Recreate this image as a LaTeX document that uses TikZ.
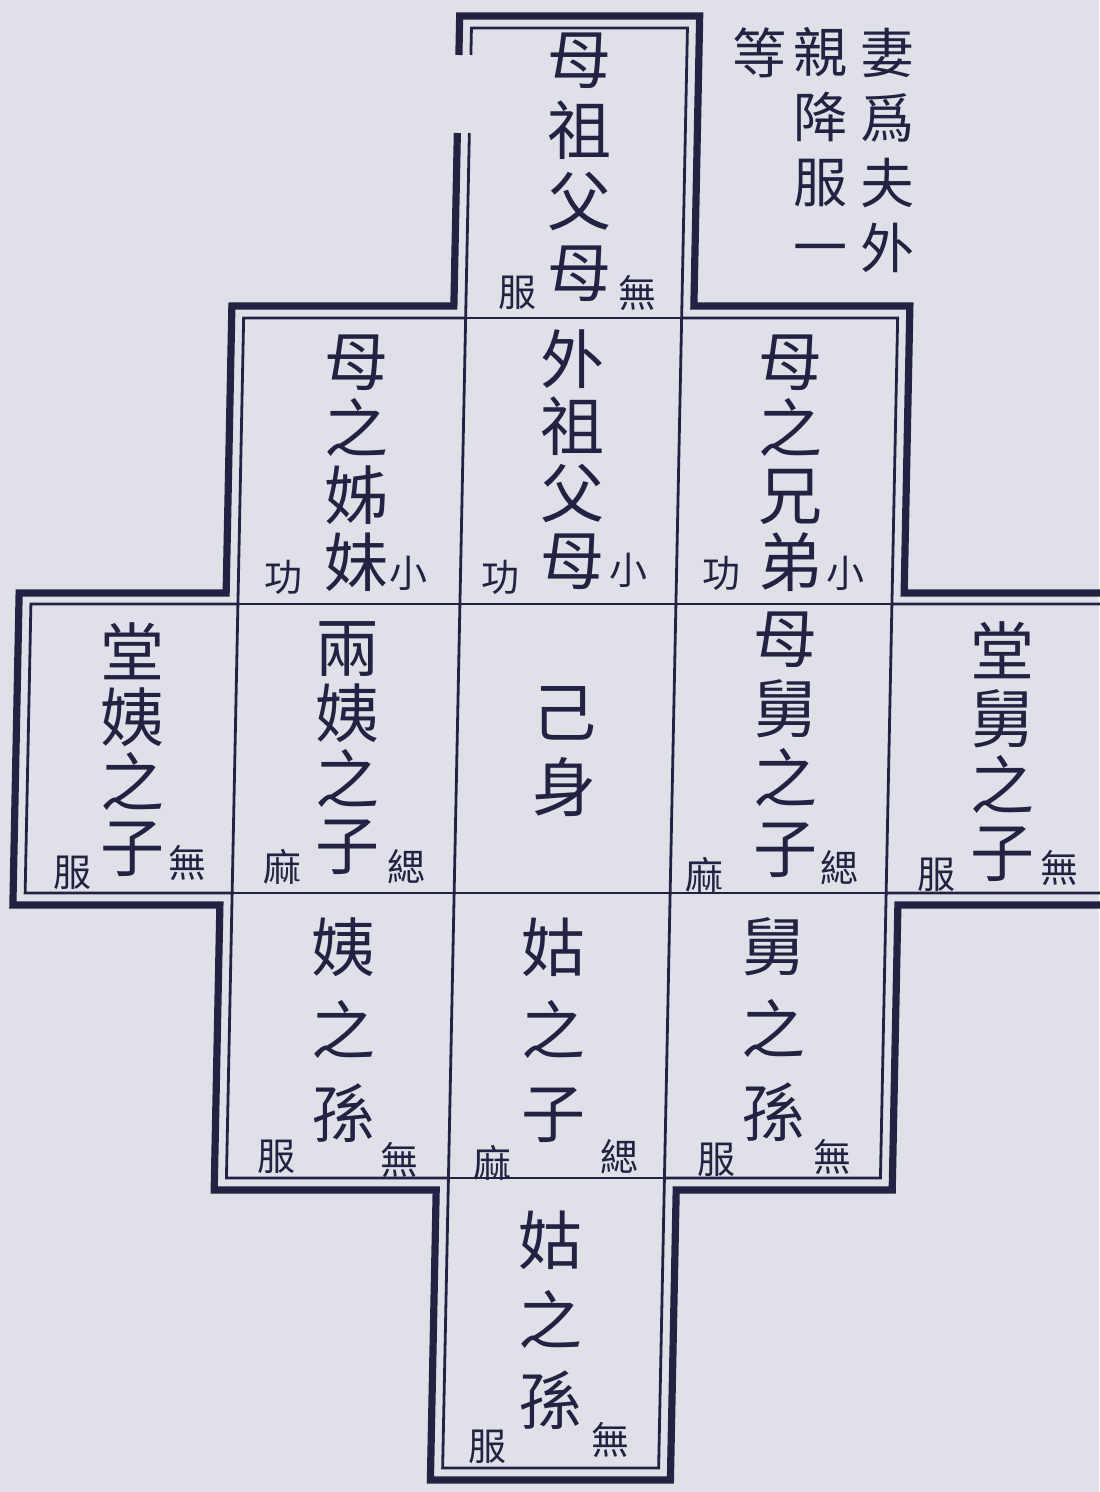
\documentclass[tikz,border=0pt]{standalone}
\usepackage{fontspec}
\newfontfamily\kaifont{Noto Sans CJK TC}
\usetikzlibrary{positioning}
\definecolor{ink}{RGB}{34,34,66}
\definecolor{paper}{RGB}{224,225,232}
\tikzset{thick rule/.style={draw=ink, line width=3.6pt, line join=miter},
    thin rule/.style={draw=ink, line width=1.4pt},
    kin/.style={font=\kaifont\fontsize{32}{#1}\selectfont, text=ink, align=center, inner sep=0pt},
    kin/.default=34,
    note/.style={font=\kaifont\fontsize{27}{32.5}\selectfont, text=ink, align=center, inner sep=0pt},
    grade/.style={font=\kaifont\fontsize{19}{19}\selectfont, text=ink, inner sep=0pt},
    }
\begin{document}
\begin{tikzpicture}[x=0.5pt,y=-0.5pt]
	\fill[paper] (0,0) rectangle (1099,1492);
	\useasboundingbox (0,0) rectangle (1099,1492);
	\begin{scope}[xslant=0.02]
	% outer frame
	\draw[thick rule] (460,133) -- (460,306) -- (238,306) -- (238,593) -- (31,593) -- (31,905)
		-- (238,905) -- (238,1190) -- (460,1190) -- (460,1480) -- (700,1480) -- (700,1190)
		-- (916,1190) -- (916,905) -- (1142,905) -- (1142,593) -- (916,593) -- (916,306)
		-- (700,306) -- (700,16) -- (460,16) -- (460,55);
	% inner frame
	\draw[thin rule] (472,133) -- (472,318) -- (250,318) -- (250,604) -- (43,604) -- (43,893)
		-- (250,893) -- (250,1178) -- (472,1178) -- (472,1468) -- (688,1468) -- (688,1178)
		-- (904,1178) -- (904,893) -- (1130,893) -- (1130,604) -- (904,604) -- (904,318)
		-- (688,318) -- (688,28) -- (472,28) -- (472,55);
	% cells
	\draw[thin rule] (472,318) -- (688,318);
	\draw[thin rule] (250,604) -- (904,604);
	\draw[thin rule] (250,893) -- (904,893);
	\draw[thin rule] (472,1178) -- (688,1178);
	\draw[thin rule] (472,318) -- (472,1178);
	\draw[thin rule] (688,318) -- (688,1178);
	\draw[thin rule] (250,604) -- (250,893);
	\draw[thin rule] (904,604) -- (904,893);

	% note
	\node[note] (noteA) at (890,150) {妻\\爲\\夫\\外};
	\node[note] (noteB) at (823,147) {親\\降\\服\\一};
	\node[note] (noteC) at (761,53) {等};

	% top
	\node[kin=35.5] (wzfmParents) at (583,167) {母\\祖\\父\\母};
	\node[grade] (wzfmParentsL) at (523,293) {服};
	\node[grade] (wzfmParentsR) at (643,293) {無};

	% row 2
	\node[kin=33.5] (muZimei) at (366,463) {母\\之\\姊\\妹};
	\node[grade] (muZimeiL) at (295,577) {功};
	\node[grade] (muZimeiR) at (420,573) {小};
	\node[kin=33.5] (waiZufumu) at (582,460) {外\\祖\\父\\母};
	\node[grade] (waiZufumuL) at (512,577) {功};
	\node[grade] (waiZufumuR) at (640,570) {小};
	\node[kin=33.5] (muXiongdi) at (800,463) {母\\之\\兄\\弟};
	\node[grade] (muXiongdiL) at (733,573) {功};
	\node[grade] (muXiongdiR) at (857,573) {小};

	% row 3
	\node[kin=32.5] (tangYiZi) at (148,750) {堂\\姨\\之\\子};
	\node[grade] (tangYiZiL) at (90,873) {服};
	\node[grade] (tangYiZiR) at (205,863) {無};
	\node[kin=33] (liangYiZi) at (362,748) {兩\\姨\\之\\子};
	\node[grade] (liangYiZiL) at (300,867) {麻};
	\node[grade] (liangYiZiR) at (424,867) {緦};
	\node[kin=37.5] (jishen) at (580,752) {己\\身};
	\node[kin=35] (muJiuZi) at (800,745) {母\\舅\\之\\子};
	\node[grade] (muJiuZiL) at (722,875) {麻};
	\node[grade] (muJiuZiR) at (857,868) {緦};
	\node[kin=33.5] (tangJiuZi) at (1018,752) {堂\\舅\\之\\子};
	\node[grade] (tangJiuZiL) at (954,875) {服};
	\node[grade] (tangJiuZiR) at (1077,868) {無};

	% row 4
	\node[kin=41.5] (yiSun) at (364,1030) {姨\\之\\孫};
	\node[grade] (yiSunL) at (300,1157) {服};
	\node[grade] (yiSunR) at (423,1160) {無};
	\node[kin=41.5] (guZi) at (574,1030) {姑\\之\\子};
	\node[grade] (guZiL) at (516,1163) {麻};
	\node[grade] (guZiR) at (643,1157) {緦};
	\node[kin=41.5] (jiuSun) at (794,1030) {舅\\之\\孫};
	\node[grade] (jiuSunL) at (740,1160) {服};
	\node[grade] (jiuSunR) at (856,1157) {無};

	% row 5
	\node[kin=40] (guSun) at (577,1320) {姑\\之\\孫};
	\node[grade] (guSunL) at (516,1447) {服};
	\node[grade] (guSunR) at (639,1440) {無};
	\end{scope}
\end{tikzpicture}
\end{document}
